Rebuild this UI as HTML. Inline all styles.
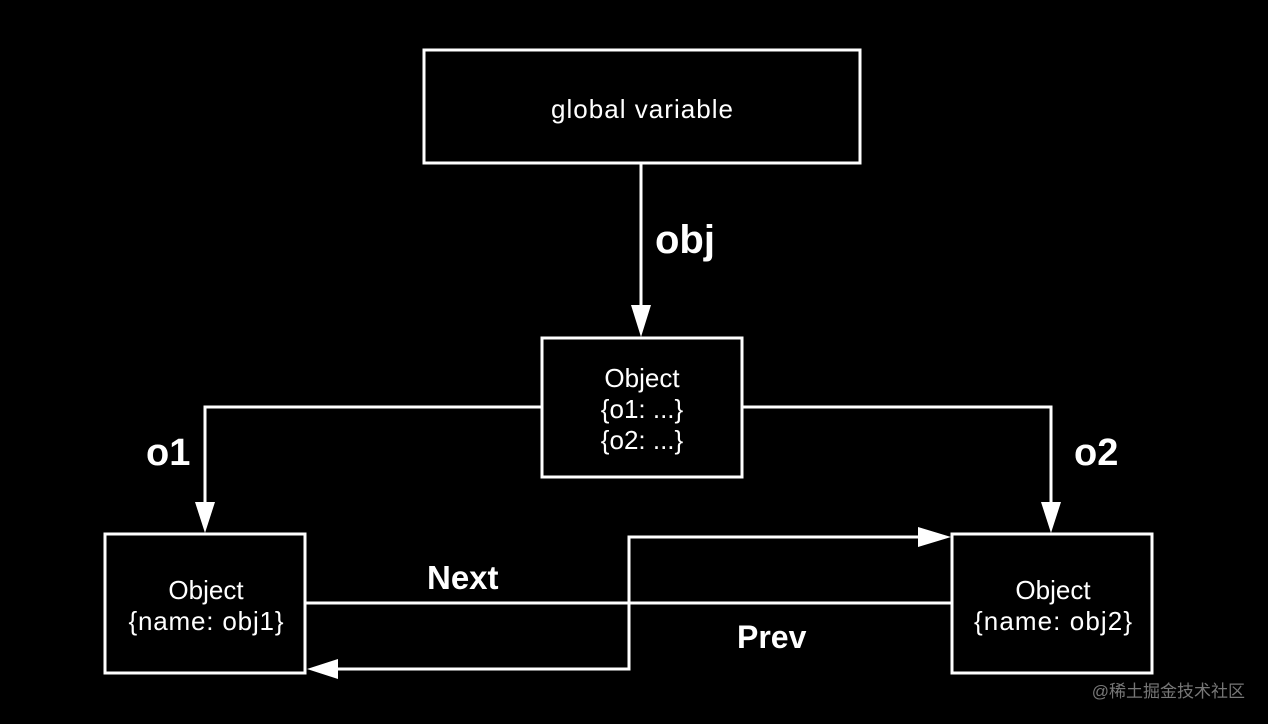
<!DOCTYPE html>
<html><head><style>html,body{margin:0;background:#000;}svg{display:block}</style></head>
<body>
<svg width="1268" height="724" viewBox="0 0 1268 724" xmlns="http://www.w3.org/2000/svg" font-family="Liberation Sans, 'Noto Sans CJK SC', sans-serif">
<rect width="1268" height="724" fill="#000"/>
<g fill="none" stroke="#fff" stroke-width="3">
<rect x="424" y="50" width="436" height="113"/>
<rect x="542" y="338" width="200" height="139"/>
<rect x="105" y="534" width="200" height="139"/>
<rect x="952" y="534" width="200" height="139"/>
<line x1="641" y1="163" x2="641" y2="310"/>
<polyline points="542,407 205,407 205,505"/>
<polyline points="742,407 1051,407 1051,505"/>
<line x1="305" y1="603" x2="952" y2="603"/>
<polyline points="629,603 629,537 922,537"/>
<polyline points="629,603 629,669 336,669"/>
</g>
<g fill="#fff">
<polygon points="631,305 651,305 641,337"/>
<polygon points="195,502 215,502 205,533"/>
<polygon points="1041,502 1061,502 1051,533"/>
<polygon points="918,527 918,547 951,537"/>
<polygon points="338,659 338,679 307,669"/>
</g>
<g fill="#fff" text-anchor="middle" font-size="26">
<text x="642" y="118" textLength="182">global variable</text>
<text x="642" y="387">Object</text>
<text x="642" y="418">{o1:  ...}</text>
<text x="642" y="449">{o2:  ...}</text>
<text x="206" y="599">Object</text>
<text x="206" y="630" textLength="155">{name: obj1}</text>
<text x="1053" y="599">Object</text>
<text x="1053" y="630" textLength="158">{name: obj2}</text>
</g>
<g fill="#fff" font-weight="bold">
<text x="655" y="253" font-size="40">obj</text>
<text x="146" y="465" font-size="38">o1</text>
<text x="1074" y="465" font-size="38">o2</text>
<text x="427" y="589" font-size="33">Next</text>
<text x="737" y="648" font-size="32">Prev</text>
</g>
<text x="1245" y="697" fill="#777" font-size="17" text-anchor="end">@稀土掘金技术社区</text>
</svg>
</body></html>
